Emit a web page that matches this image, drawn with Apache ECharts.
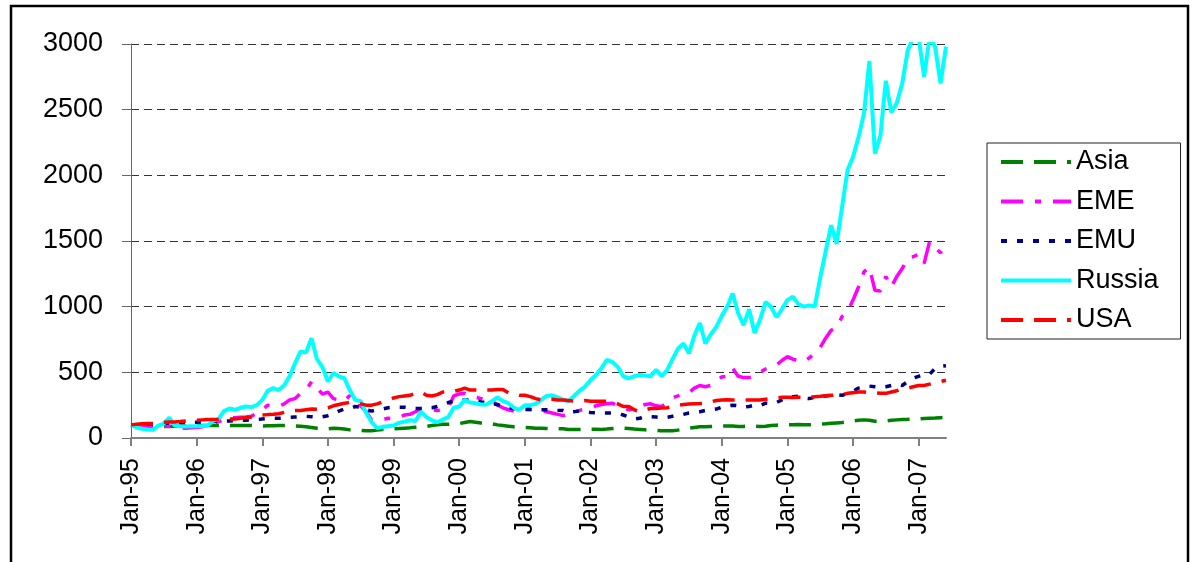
<!DOCTYPE html>
<html>
<head>
<meta charset="utf-8">
<script src="https://cdn.jsdelivr.net/npm/echarts@6/dist/echarts.min.js"></script>
<style>
  html, body { margin: 0; padding: 0; background: #fff; }
  #main { width: 1195px; height: 562px; }
</style>
</head>
<body>
<div id="main"></div>
<script>
// monthly points, Jan-95 .. Jun-07
var monthNames = ['Jan','Feb','Mar','Apr','May','Jun','Jul','Aug','Sep','Oct','Nov','Dec'];
var years = ['95','96','97','98','99','00','01','02','03','04','05','06','07'];

var asia = [
  100, 98, 95, 92, 90, 88, 88, 88, 90, 90, 92, 92,
  93, 95, 95, 95, 95, 95, 95, 95, 95, 95, 95, 92,
  92, 93, 93, 95, 95, 95, 92, 90, 85, 80, 75, 72,
  70, 75, 72, 68, 62, 60, 58, 55, 55, 60, 65, 68,
  70, 72, 75, 78, 82, 85, 88, 95, 100, 105, 105, 108,
  110, 118, 125, 120, 115, 112, 108, 100, 95, 90, 85, 82,
  80, 78, 75, 75, 72, 70, 70, 70, 65, 65, 65, 66,
  66, 66, 65, 68, 72, 75, 75, 72, 68, 65, 62, 60,
  58, 55, 55, 55, 60, 70, 75, 80, 85, 85, 88, 90,
  90, 92, 92, 88, 88, 90, 90, 88, 90, 95, 98, 100,
  100, 100, 102, 100, 100, 102, 105, 108, 112, 115, 118, 125,
  130, 135, 138, 135, 128, 128, 130, 135, 138, 140, 142, 145,
  145, 148, 150, 152, 155, 158
];
var eme = [
  100, 90, 85, 80, 82, 88, 92, 90, 85, 78, 75, 78,
  80, 85, 95, 110, 125, 140, 150, 155, 158, 160, 165, 190,
  215, 250, 245, 240, 260, 290, 300, 340, 360, 430, 380, 335,
  350, 300, 290, 280, 325, 250, 245, 200, 135, 135, 140, 150,
  145, 160, 175, 180, 200, 225, 220, 215, 210, 215, 230, 320,
  335, 340, 320, 310, 300, 285, 280, 250, 230, 215, 205, 210,
  215, 215, 215, 210, 200, 190, 180, 170, 185, 200, 210, 220,
  230, 245, 255, 260, 265, 245, 230, 215, 225, 240, 255, 260,
  245, 240, 270, 305, 320, 340, 345, 380, 400, 390, 400, 430,
  465, 470, 530, 470, 460, 460, 470, 500, 525, 540, 555, 590,
  620, 600, 590, 580, 610, 645, 690, 760, 820, 840, 925, 960,
  1050, 1150, 1265, 1300, 1125, 1120, 1230, 1150, 1230, 1290, 1370, 1380,
  1400, 1330, 1495, 1450, 1410, 1480
];
var emu = [
  100, 102, 105, 105, 108, 110, 112, 112, 115, 115, 118, 120,
  120, 122, 125, 125, 128, 130, 130, 133, 135, 135, 138, 140,
  145, 148, 150, 150, 152, 158, 160, 162, 165, 162, 158, 162,
  170, 185, 205, 220, 225, 240, 235, 215, 205, 215, 220, 230,
  235, 235, 235, 230, 225, 225, 228, 230, 240, 255, 270, 280,
  285, 290, 290, 285, 275, 270, 260, 255, 240, 230, 225, 220,
  220, 218, 215, 215, 215, 215, 212, 210, 195, 200, 205, 200,
  195, 192, 190, 190, 190, 185, 175, 160, 145, 150, 165, 162,
  160, 155, 158, 165, 170, 180, 190, 195, 200, 210, 215, 220,
  235, 245, 250, 245, 235, 240, 250, 245, 265, 262, 270, 290,
  310, 315, 318, 305, 300, 310, 315, 320, 325, 330, 325, 340,
  355, 380, 390, 395, 390, 385, 390, 400, 410, 400, 430, 455,
  470, 480, 485, 530, 545, 550
];
var russia = [
  100, 80, 70, 65, 62, 95, 110, 155, 95, 90, 88, 90,
  90, 92, 95, 130, 145, 205, 225, 215, 230, 240, 235, 250,
  290, 360, 380, 365, 400, 470, 570, 660, 650, 760, 600, 540,
  430, 495, 470, 455, 365, 290, 280, 190, 120, 75, 85, 90,
  95, 115, 125, 135, 130, 200, 160, 135, 120, 140, 160, 230,
  240, 290, 270, 265, 255, 255, 280, 310, 280, 265, 230, 215,
  250, 250, 260, 290, 320, 325, 310, 290, 280, 320, 360, 390,
  440, 480, 530, 595, 580, 540, 470, 455, 470, 480, 475, 470,
  520, 470, 515, 600, 680, 720, 645, 780, 875, 720, 790, 845,
  930, 1000, 1100, 950, 860, 980, 800, 900, 1035, 1000, 920, 980,
  1050, 1075, 1020, 1000, 1010, 1000, 1220, 1420, 1620, 1480, 1760, 2040,
  2140, 2290, 2470, 2870, 2165, 2300, 2720, 2480, 2550, 2700, 2950, 3050,
  3050, 2750, 3050, 2980, 2700, 2980
];
var usa = [
  100, 105, 108, 110, 112, 115, 120, 122, 122, 125, 130, 135,
  135, 138, 140, 140, 142, 145, 145, 145, 150, 155, 160, 170,
  175, 178, 180, 185, 195, 205, 210, 210, 215, 220, 218, 225,
  230, 245, 255, 265, 270, 268, 260, 250, 250, 260, 275, 290,
  305, 315, 320, 325, 340, 350, 325, 320, 330, 350, 350, 355,
  365, 380, 365, 365, 360, 365, 365, 370, 370, 345, 335, 325,
  325, 315, 300, 290, 295, 295, 290, 290, 285, 280, 280, 285,
  280, 280, 280, 280, 275, 260, 240, 240, 215, 200, 215, 225,
  225, 228, 230, 240, 250, 255, 258, 260, 262, 265, 275, 285,
  290, 292, 290, 290, 290, 290, 290, 290, 295, 300, 305, 310,
  310, 308, 310, 310, 310, 315, 318, 322, 325, 328, 330, 340,
  345, 350, 350, 345, 345, 340, 340, 350, 360, 375, 380, 390,
  400, 400, 410, 420, 430, 440
];

//类目：每月一个
var months = [];
for (var i = 0; i < russia.length; i++) {
  months.push(monthNames[i % 12] + '-' + years[Math.floor(i / 12)]);
}
function isJan(idx) { return idx % 12 === 0; }

var myChart = echarts.init(document.getElementById('main'));
var fontName = '"Liberation Sans", Arial, sans-serif';

var option = {
  animation: false,
  backgroundColor: '#fff',
  grid: { left: 131, top: 44, right: 249, bottom: 124 },
  graphic: [{
    type: 'rect',
    shape: { x: 11, y: 6, width: 1177, height: 600 },
    style: { fill: 'none', stroke: '#000', lineWidth: 2.5 },
    silent: true
  }],
  legend: {
    orient: 'vertical',
    left: 987,
    top: 143,
    padding: [5, 22, 5, 12],
    itemGap: 11.5,
    itemWidth: 70,
    itemHeight: 14,
    borderColor: '#222',
    borderWidth: 1,
    backgroundColor: '#fff',
    itemStyle: { opacity: 0 },
    lineStyle: { width: 4 },
    textStyle: { fontFamily: fontName, fontSize: 27, color: '#000', lineHeight: 28 },
    data: ['Asia', 'EME', 'EMU', 'Russia', 'USA']
  },
  xAxis: {
    type: 'category',
    boundaryGap: false,
    data: months,
    axisLine: { lineStyle: { color: '#808080', width: 2 } },
    axisTick: { interval: isJan, length: 8, lineStyle: { color: '#808080', width: 2 } },
    axisLabel: {
      interval: isJan, rotate: 90, margin: 20,
      fontFamily: fontName, fontSize: 25, color: '#000'
    },
    splitLine: { show: false }
  },
  yAxis: {
    type: 'value',
    min: 0, max: 3000, interval: 500,
    axisLine: { show: true, lineStyle: { color: '#666', width: 1 } },
    axisTick: { show: true, length: 9, lineStyle: { color: '#666' } },
    axisLabel: {
      margin: 28, fontFamily: fontName, fontSize: 27, color: '#000',
      formatter: function (v) { return String(v); }
    },
    splitLine: { lineStyle: { color: '#333', width: 1, type: [8, 5] } }
  },
  series: [
    { name: 'Asia', type: 'line', data: asia, symbol: 'none', color: '#008000',
      lineStyle: { color: '#008000', width: 3.5, type: [22, 11] } },
    { name: 'EME', type: 'line', data: eme, symbol: 'none', color: '#FF00FF',
      lineStyle: { color: '#FF00FF', width: 3.5, type: [22, 12, 6, 12] } },
    { name: 'EMU', type: 'line', data: emu, symbol: 'none', color: '#000080',
      lineStyle: { color: '#000080', width: 3.5, type: [6, 10] } },
    { name: 'Russia', type: 'line', data: russia, symbol: 'none', color: '#00FFFF',
      lineStyle: { color: '#00FFFF', width: 4 } },
    { name: 'USA', type: 'line', data: usa, symbol: 'none', color: '#FF0000',
      lineStyle: { color: '#FF0000', width: 3.5, type: [22, 11] } }
  ]
};
myChart.setOption(option);
</script>
</body>
</html>
